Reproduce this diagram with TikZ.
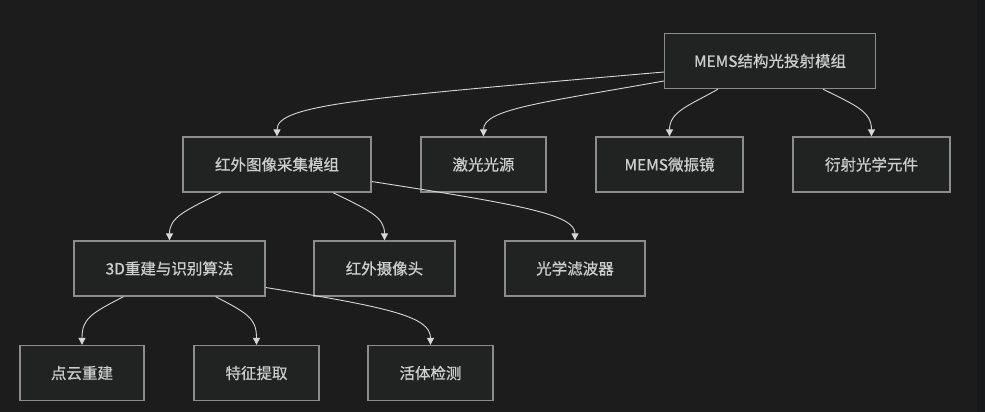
\documentclass[tikz,border=0pt]{standalone}
\usepackage{fontspec}
\usepackage{xcolor}
\usepackage{tikz}
\usetikzlibrary{positioning, arrows.meta, calc}
\newfontfamily\cjk[FakeBold=0.6]{Noto Sans CJK SC}
\definecolor{bgdark}{RGB}{28,28,28}
\definecolor{bgstrip}{RGB}{23,24,26}
\definecolor{boxfill}{RGB}{33,35,35}
\definecolor{boxline}{RGB}{140,140,140}
\definecolor{txtgray}{RGB}{206,206,206}
\definecolor{linkgray}{RGB}{215,215,215}

\begin{document}
\begin{tikzpicture}[x=1pt, y=-1pt, >={Triangle[length=7pt,width=7pt]},
    module/.style={draw=boxline, line width=1.3pt, fill=boxfill, text=txtgray,
        minimum height=55pt, inner sep=0pt,
        font=\cjk\fontsize{15.5}{18}\selectfont},
    link/.style={->, draw=linkgray, line width=0.9pt}]
    % --- Background ---
    \fill[bgdark] (0,0) rectangle (985,412);
    \fill[bgstrip] (977,0) rectangle (985,412);
    \useasboundingbox (0,0) rectangle (985,412);

    % --- Level 0 ---
    \node[module, minimum width=211pt] (proj) at (770,61) {MEMS结构光投射模组};

    % --- Level 1 ---
    \node[module, minimum width=188pt] (ircap) at (277,164.5) {红外图像采集模组};
    \node[module, minimum width=125pt] (laser) at (483.5,164.5) {激光光源};
    \node[module, minimum width=147pt] (mirror) at (669.5,164.5) {MEMS微振镜};
    \node[module, minimum width=157pt] (doe) at (871.5,164.5) {衍射光学元件};

    % --- Level 2 ---
    \node[module, minimum width=191pt] (algo) at (169.5,268.5) {3D重建与识别算法};
    \node[module, minimum width=141pt] (camera) at (384.5,268.5) {红外摄像头};
    \node[module, minimum width=140pt] (filter) at (575,268.5) {光学滤波器};

    % --- Level 3 ---
    \node[module, minimum width=124pt] (cloud) at (82,373) {点云重建};
    \node[module, minimum width=125pt] (feature) at (256.5,373) {特征提取};
    \node[module, minimum width=125pt] (live) at (430.5,373) {活体检测};

    % Links from the projection module
    \draw[link] ([yshift=-11pt]proj.west) .. controls +(-300,26) and +(0,-32) .. (ircap.north);
    \draw[link] ([yshift=-20pt]proj.west) .. controls +(-124,22) and +(0,-27) .. (laser.north);
    \draw[link] ([xshift=-52pt]proj.south) .. controls +(-28,16) and +(0,-25) .. (mirror.north);
    \draw[link] ([xshift=53pt]proj.south) .. controls +(32,16) and +(0,-25) .. (doe.north);

    % Links from the infrared capture module
    \draw[link] ([xshift=-56pt]ircap.south) .. controls +(-36,18) and +(0,-23) .. (algo.north);
    \draw[link] ([xshift=56pt]ircap.south) .. controls +(37,18) and +(0,-23) .. (camera.north);
    \draw[link] ([yshift=-17pt]ircap.east) .. controls +(148,23) and +(0,-26) .. (filter.north);

    % Links from the algorithm module
    \draw[link] ([xshift=-46pt]algo.south) .. controls +(-33,17) and +(0,-26) .. (cloud.north);
    \draw[link] ([xshift=46pt]algo.south) .. controls +(33,17) and +(0,-26) .. (feature.north);
    \draw[link] ([yshift=-19pt]algo.east) .. controls +(125,20) and +(0,-28) .. (live.north);
\end{tikzpicture}
\end{document}
